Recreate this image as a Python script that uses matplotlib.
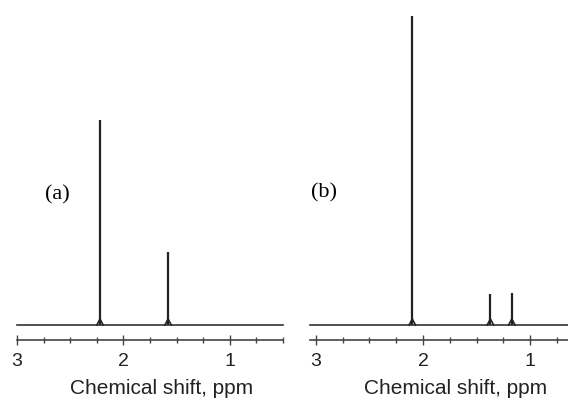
import matplotlib
matplotlib.use('Agg')
import matplotlib.pyplot as plt
from matplotlib.ticker import MultipleLocator

# ピーク位置 (ppm) と強度 (任意単位)
shift_a = [2.22, 1.58]
height_a = [205, 73]
shift_b = [2.10, 1.37, 1.17]
height_b = [309, 31, 32]
tick_labels = ['3', '2', '1']
panel_labels = ['(a)', '(b)']

W, H = 568, 401
fig = plt.figure(figsize=(W / 100, H / 100), dpi=100)


def draw_panel(rect, xlim, shifts, heights, label, label_xy):
    ax = fig.add_axes(rect)
    ax.set_xlim(*xlim)
    ax.set_ylim(-20, 325)
    # ベースライン
    ax.plot(xlim, [0, 0], color='#333333', lw=1.2, clip_on=False)
    ax.vlines(shifts, 0, heights, color='#222222', lw=1.6)
    for s in shifts:
        ax.plot([s + 0.03, s, s - 0.03], [0, 6, 0], color='#222222', lw=1.2)
    for k in ['top', 'left', 'right']:
        ax.spines[k].set_visible(False)
    ax.spines['bottom'].set_position(('data', -15))
    ax.spines['bottom'].set_color('#444444')
    ax.spines['bottom'].set_linewidth(1.2)
    ax.set_yticks([])
    ax.xaxis.set_major_locator(MultipleLocator(1))
    ax.xaxis.set_minor_locator(MultipleLocator(0.25))
    ax.set_xticks([3, 2, 1])
    ax.set_xticklabels(tick_labels, fontsize=14, family='Liberation Sans')
    ax.tick_params(axis='x', which='major', direction='inout', length=7,
                   width=1.0, pad=6, colors='#444444', labelcolor='#222222')
    ax.tick_params(axis='x', which='minor', direction='inout', length=4,
                   width=1.0, colors='#444444')
    ax.patch.set_visible(False)
    fig.text(label_xy[0] / W, 1 - label_xy[1] / H, label, fontsize=16,
             family='Liberation Serif', ha='center', va='center')
    return ax


bottom = (H - 345) / H
height = 345 / H
draw_panel([17 / W, bottom, 266 / W, height], (3.0, 0.5),
           shift_a, height_a, panel_labels[0], (57, 195))
draw_panel([310 / W, bottom, 258 / W, height], (3.056, 0.645),
           shift_b, height_b, panel_labels[1], (324, 193))

fig.text(162 / W, 1 - 394 / H, 'Chemical shift, ppm', fontsize=15,
         family='Liberation Sans', ha='center', va='baseline', color='#222222')
fig.text(456 / W, 1 - 394 / H, 'Chemical shift, ppm', fontsize=15,
         family='Liberation Sans', ha='center', va='baseline', color='#222222')

plt.savefig('out.png', dpi=100)
